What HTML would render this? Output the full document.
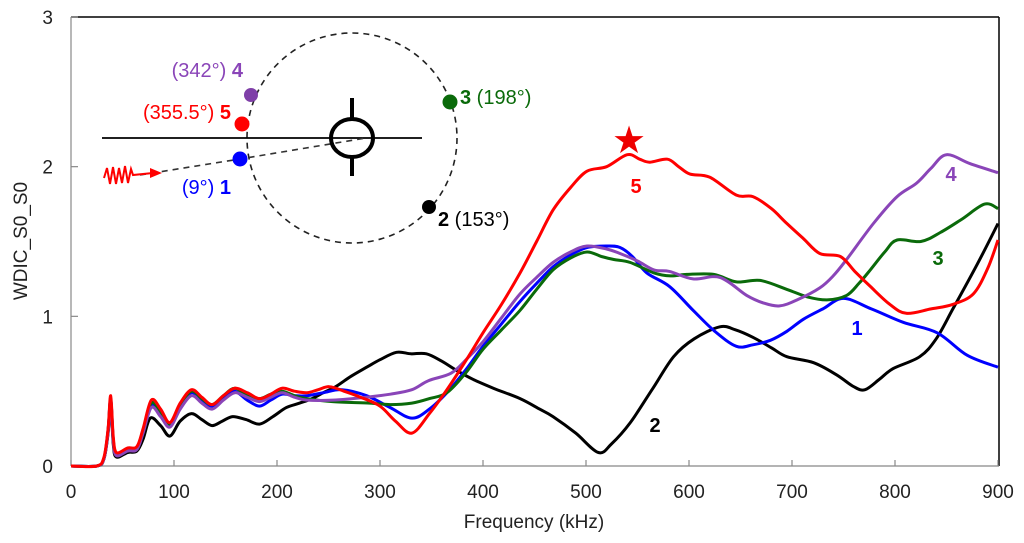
<!DOCTYPE html>
<html><head><meta charset="utf-8"><style>
html,body{margin:0;padding:0;background:#fff;}
svg{display:block;font-family:"Liberation Sans",sans-serif;}
</style></head><body>
<svg id="chart" width="1024" height="543" viewBox="0 0 1024 543">
<g id="axes"></g>
<g id="series"></g>
<g id="inset">
  <circle cx="352" cy="138" r="105" fill="none" stroke="#222" stroke-width="1.6" stroke-dasharray="6,5"/>
  <line x1="102" y1="138" x2="422" y2="138" stroke="#000" stroke-width="1.8"/>
  <polyline points="140,175 240,159 366,138" fill="none" stroke="#333" stroke-width="1.6" stroke-dasharray="6,5"/>
  <ellipse cx="352" cy="138" rx="21" ry="19" fill="none" stroke="#000" stroke-width="4"/>
  <line x1="352" y1="98" x2="352" y2="119" stroke="#000" stroke-width="4"/>
  <line x1="352" y1="157" x2="352" y2="176" stroke="#000" stroke-width="4"/>
  <polyline points="104,178 107,168 110,184 113,167 116,184 119,168 122,183 125,166 128,183 131,169 133,175 153,173" fill="none" stroke="#f00" stroke-width="2"/>
  <polygon points="150,168 162,173 150,178" fill="#f00"/>
  <circle cx="251" cy="95" r="7" fill="#7f3fa8"/>
  <circle cx="242" cy="124" r="7.5" fill="#f00"/>
  <circle cx="240" cy="159" r="7.5" fill="#00f"/>
  <circle cx="450" cy="102" r="7.5" fill="#0a6a0a"/>
  <circle cx="429" cy="207" r="7" fill="#000"/>
  <text x="243" y="77" text-anchor="end" font-size="20" fill="#8a45b8">(342°) <tspan font-weight="bold">4</tspan></text>
  <text x="231" y="119" text-anchor="end" font-size="20" fill="#f00">(355.5°) <tspan font-weight="bold">5</tspan></text>
  <text x="231" y="194" text-anchor="end" font-size="20" fill="#00f">(9°) <tspan font-weight="bold">1</tspan></text>
  <text x="460" y="104" font-size="20" fill="#0a6a0a"><tspan font-weight="bold">3</tspan> (198°)</text>
  <text x="438" y="226" font-size="20" fill="#000"><tspan font-weight="bold">2</tspan> (153°)</text>
</g>
<text x="629" y="153" text-anchor="middle" font-size="38" fill="#e00">★</text>
<text x="636" y="193" text-anchor="middle" font-size="20" font-weight="bold" fill="#f00">5</text>
<text x="951" y="181" text-anchor="middle" font-size="20" font-weight="bold" fill="#8a45b8">4</text>
<text x="938" y="265" text-anchor="middle" font-size="20" font-weight="bold" fill="#0a6a0a">3</text>
<text x="857" y="335" text-anchor="middle" font-size="20" font-weight="bold" fill="#00f">1</text>
<text x="655" y="432" text-anchor="middle" font-size="20" font-weight="bold" fill="#000">2</text>
</svg>
<script>
const xTicks = [0,100,200,300,400,500,600,700,800,900];
const yTicks = [0,1,2,3];
const lowF = [0,25,32,36,38.5,41,44,55,64,70,78,87,96,106,117,127,137,148,159,171,183,194,205,217,229];
const f1 = lowF.concat([245,263,287,310,331,348,365,383,400,418,436,452,468,485,501,520,533,545,559,581,604,625,646,662,679,695,711,730,750,777,808,841,870,900]);
const v1 = [0,0,0.05,0.24,0.45,0.18,0.08,0.11,0.12,0.23,0.41,0.35,0.27,0.4,0.49,0.44,0.4,0.46,0.5,0.44,0.40,0.44,0.48,0.47,0.47,
  0.49,0.51,0.47,0.39,0.32,0.38,0.49,0.64,0.80,0.95,1.10,1.22,1.33,1.41,1.46,1.47,1.46,1.40,1.29,1.20,1.04,0.9,0.80,0.81,0.84,0.9,0.98,1.05,1.12,1.05,0.96,0.89,0.74,0.66];
const f2 = [0,25,32,36,38.5,41,44,55,64,70,77,87,96,106,117,127,137,147,157,170,183,196,209,222,234,245,257,272,287,300,316,330,345,360,374,390,410,436,455,468,490,512,525,543,565,585,605,630,645,662,680,695,721,743,760,771,785,798,824,840,857,880,900];
const v2 = [0,0,0.05,0.22,0.42,0.15,0.06,0.09,0.1,0.18,0.32,0.27,0.2,0.3,0.35,0.31,0.27,0.3,0.33,0.31,0.28,0.33,0.39,0.42,0.45,0.49,0.53,0.6,0.66,0.71,0.76,0.75,0.75,0.7,0.64,0.58,0.52,0.45,0.38,0.33,0.22,0.09,0.15,0.29,0.52,0.73,0.85,0.93,0.91,0.86,0.79,0.73,0.69,0.61,0.53,0.51,0.58,0.65,0.73,0.85,1.06,1.35,1.62];
const f3 = lowF.concat([254,290,310,331,348,365,383,400,418,436,452,468,485,501,515,527,543,566,582,598,624,646,669,695,715,734,753,765,776,790,802,825,844,865,887,900]);
const v3 = [0,0,0.05,0.24,0.45,0.18,0.08,0.11,0.12,0.24,0.42,0.36,0.28,0.41,0.5,0.45,0.41,0.47,0.52,0.47,0.45,0.48,0.5,0.47,0.45,
  0.43,0.42,0.41,0.42,0.45,0.49,0.62,0.78,0.91,1.04,1.18,1.31,1.39,1.43,1.40,1.38,1.36,1.29,1.27,1.28,1.28,1.23,1.24,1.18,1.13,1.11,1.14,1.22,1.31,1.43,1.51,1.50,1.56,1.65,1.75,1.72];
const f4 = lowF.concat([254,287,310,331,347,369,385,400,418,436,452,468,485,501,520,533,550,566,581,604,630,656,672,688,705,727,740,753,779,802,821,835,850,873,900]);
const v4 = [0,0,0.05,0.23,0.43,0.17,0.07,0.1,0.11,0.22,0.39,0.33,0.26,0.38,0.47,0.42,0.38,0.44,0.49,0.46,0.43,0.46,0.49,0.46,0.44,
  0.44,0.46,0.48,0.51,0.57,0.62,0.72,0.83,0.99,1.15,1.26,1.36,1.43,1.47,1.45,1.42,1.37,1.31,1.30,1.25,1.26,1.14,1.09,1.07,1.11,1.19,1.27,1.38,1.62,1.80,1.89,1.99,2.08,2.02,1.96];
const f5 = lowF.concat([240,251,265,281,300,315,331,348,365,383,400,418,436,452,468,485,501,520,540,552,562,579,590,601,620,646,662,680,695,711,727,747,761,776,795,811,835,856,876,890,900]);
const v5 = [0,0,0.06,0.25,0.47,0.2,0.09,0.12,0.13,0.25,0.44,0.38,0.29,0.42,0.51,0.46,0.41,0.47,0.52,0.49,0.45,0.48,0.52,0.5,0.49,
  0.51,0.53,0.5,0.46,0.4,0.3,0.22,0.35,0.51,0.7,0.89,1.08,1.29,1.5,1.71,1.86,1.97,2.0,2.08,2.05,2.03,2.05,2.0,1.95,1.93,1.81,1.80,1.72,1.62,1.52,1.42,1.40,1.3,1.20,1.08,1.02,1.05,1.08,1.15,1.32,1.51];

const X0=71, X1=998, Y0=466, Y3=17;
function sx(f){return X0+(f/900)*(X1-X0);}
function sy(v){return Y0-(v/3)*(Y0-Y3);}
const NS='http://www.w3.org/2000/svg';
function mk(tag,attrs,parent){const e=document.createElementNS(NS,tag);for(const k in attrs)e.setAttribute(k,attrs[k]);parent.appendChild(e);return e;}
const axes=document.getElementById('axes');
let e;
e=mk('line',{x1:X0,y1:Y3,x2:X1+1,y2:Y3,stroke:'#000','stroke-width':1.5},axes);


e=mk('line',{x1:X1+1,y1:Y3,x2:X1+1,y2:Y0,stroke:'#000','stroke-width':1.5},axes);


e=mk('line',{x1:X0,y1:Y3,x2:X0,y2:Y0,stroke:'#888','stroke-width':1.2},axes);


e=mk('line',{x1:X0,y1:Y0,x2:X1+1,y2:Y0,stroke:'#888','stroke-width':1.2},axes);


xTicks.forEach(t=>{
  const x=sx(t);
  let l=mk('line',{x1:x,y1:Y0,x2:x,y2:Y0-6,stroke:'#888','stroke-width':1.2},axes);
  
  
  let tx=mk('text',{x:x,y:Y0+32,'text-anchor':'middle','font-size':19,fill:'#222'},axes);
  tx.textContent=t;
  
  
});
yTicks.forEach(t=>{
  const y=sy(t);
  let l=mk('line',{x1:X0,y1:y,x2:X0+7,y2:y,stroke:'#888','stroke-width':1.2},axes);
  
  
  let tx=mk('text',{x:53,y:y+7,'text-anchor':'end','font-size':19,fill:'#222'},axes);
  tx.textContent=t;
  
  
});
e=mk('text',{x:534,y:528,'text-anchor':'middle','font-size':19,fill:'#222'},axes);
e.textContent='Frequency (kHz)';


e=mk('text',{x:0,y:0,'text-anchor':'middle','font-size':19,fill:'#222',transform:'translate(27,241) rotate(-90)'},axes);
e.textContent='WDIC_S0_S0';



function pathFor(fs,vs){
  const p=fs.map((f,i)=>[sx(f),sy(vs[i])]);
  let d='M'+p[0][0].toFixed(1)+','+p[0][1].toFixed(1);
  for(let i=0;i<p.length-1;i++){
    const a=p[Math.max(0,i-1)],b=p[i],c=p[i+1],n=p[Math.min(p.length-1,i+2)];
    const c1=[b[0]+(c[0]-a[0])/6,b[1]+(c[1]-a[1])/6];
    const c2=[c[0]-(n[0]-b[0])/6,c[1]-(n[1]-b[1])/6];
    d+=' C'+c1.map(v=>v.toFixed(1))+' '+c2.map(v=>v.toFixed(1))+' '+c[0].toFixed(1)+','+c[1].toFixed(1);
  }
  return d;
}
const sg=document.getElementById('series');
const defs=[[f2,v2,'#000','series-2-line'],[f1,v1,'#00f','series-1-line'],[f3,v3,'#0a6a0a','series-3-line'],[f4,v4,'#8a45b8','series-4-line'],[f5,v5,'#f00','series-5-line']];
defs.forEach(s=>{
  const p=mk('path',{d:pathFor(s[0],s[1]),fill:'none',stroke:s[2],'stroke-width':3,'stroke-linejoin':'round'},sg);
  
  
});
</script>
</body></html>
